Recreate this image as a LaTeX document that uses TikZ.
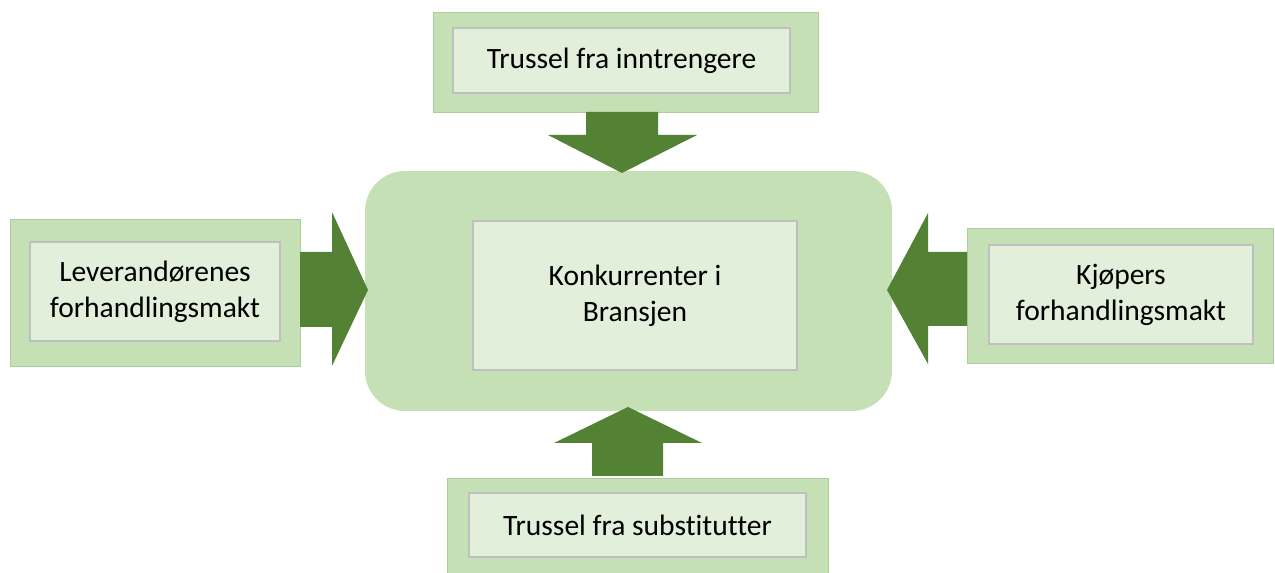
\documentclass[tikz,border=0pt]{standalone}
\usepackage{fontspec}
\setmainfont[Ligatures=NoCommon]{Carlito}
\usetikzlibrary{positioning}

\definecolor{lightgreen}{HTML}{C5E0B4}
\definecolor{palegreen}{HTML}{E2EFDA}
\definecolor{darkgreen}{HTML}{548235}
\definecolor{edgegrey}{HTML}{BFBFBF}

\begin{document}
\begin{tikzpicture}[x=0.02cm,y=-0.02cm,
  outerbox/.style={fill=lightgreen,draw=lightgreen!80!darkgreen,line width=0.5pt,outer sep=0pt},
  innerbox/.style={fill=palegreen,draw=edgegrey,line width=0.7pt,outer sep=0pt,inner sep=0pt,
    align=center,font=\fontsize{16.8}{20.5}\selectfont},
  forcearrow/.style={fill=darkgreen,draw=none}]

\useasboundingbox (0,0) rectangle (1275,573);

% Outer green frames
\node[outerbox,minimum width=7.7cm,minimum height=2.0cm] (topframe) at (625.5,62) {};
\node[outerbox,minimum width=5.8cm,minimum height=2.94cm] (leftframe) at (155,292.5) {};
\node[outerbox,minimum width=6.12cm,minimum height=2.7cm] (rightframe) at (1120,295.5) {};
\node[outerbox,minimum width=7.62cm,minimum height=1.9cm] (bottomframe) at (637.5,525.5) {};
\node[fill=lightgreen,rounded corners=0.8cm,minimum width=10.54cm,minimum height=4.8cm] (centerframe) at (628.5,291) {};

% Inner boxes with text
\node[innerbox,minimum width=6.74cm,minimum height=1.3cm] (entrants) at (621.5,60.5) {Trussel fra inntrengere};
\node[innerbox,minimum width=5.0cm,minimum height=1.98cm] (suppliers) at (155,291.5) {Leverandørenes\\forhandlingsmakt};
\node[innerbox,minimum width=6.48cm,minimum height=2.98cm] (rivals) at (635,295.5) {Konkurrenter i\\Bransjen};
\node[innerbox,minimum width=5.28cm,minimum height=1.98cm] (buyers) at (1121,294.5) {Kjøpers\\forhandlingsmakt};
\node[innerbox,minimum width=6.74cm,minimum height=1.28cm] (substitutes) at (637.5,525) {Trussel fra substitutter};

% Block arrows towards the centre
\fill[forcearrow] (586,112) -- (658,112) -- (658,135) -- (697,135) -- (622,173) -- (548,135) -- (586,135) -- cycle; % top
\fill[forcearrow] (300,252) -- (332,252) -- (332,212) -- (368,290) -- (332,366) -- (332,327) -- (300,327) -- cycle; % left
\fill[forcearrow] (967,252) -- (928,252) -- (928,213) -- (887,290) -- (928,364) -- (928,326) -- (967,326) -- cycle; % right
\fill[forcearrow] (592,476) -- (663,476) -- (663,443) -- (702,443) -- (628,407) -- (554,443) -- (592,443) -- cycle; % bottom

\end{tikzpicture}
\end{document}
